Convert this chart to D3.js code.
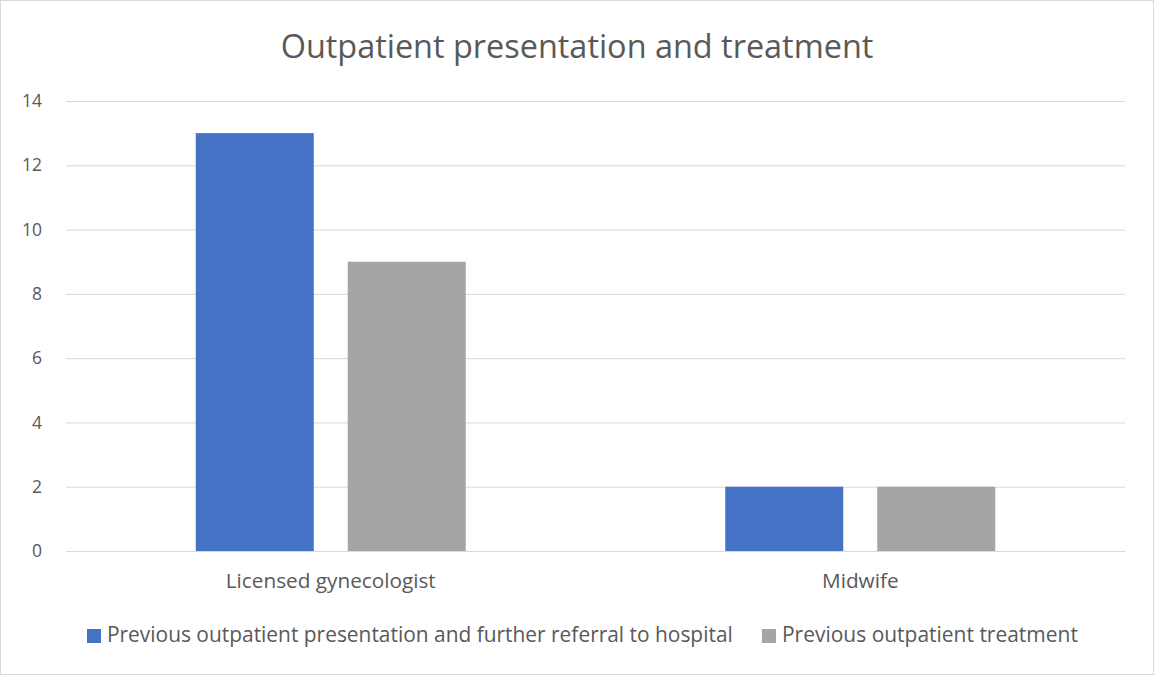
<!DOCTYPE html>
<html><head><meta charset="utf-8">
<script src="https://cdn.jsdelivr.net/npm/d3@7"></script>
<style>body{margin:0;background:#fff;} text{font-family:"Open Sans",Lato,sans-serif;fill:#595959;}</style>
</head><body>
<svg id="c" width="1154" height="675"></svg>
<script>
const categories = ["Licensed gynecologist", "Midwife"];
const seriesNames = ["Previous outpatient presentation and further referral to hospital", "Previous outpatient treatment"];
const referralValues = [13, 2];
const treatmentValues = [9, 2];
const yTicks = [0, 2, 4, 6, 8, 10, 12, 14];
const colors = ["#4472C4", "#A5A5A5"];
const title = "Outpatient presentation and treatment";

function fit(sel, target, base) {
  sel.each(function(){
    const t = d3.select(this);
    t.style("font-size", base + "px");
    const w = this.getComputedTextLength();
    t.style("font-size", (base * target / w).toFixed(2) + "px");
  });
}

const svg = d3.select("#c");
svg.append("rect").attr("x",0.5).attr("y",0.5).attr("width",1153).attr("height",674)
  .attr("fill","#fff").attr("stroke","#D9D9D9");

const m = {l:66, r:1125, t:101, b:551};
const x = d3.scaleBand().domain(categories).range([m.l, m.r]);
const y = d3.scaleLinear().domain([0,14]).range([m.b, m.t]);
const xs = d3.scaleBand().domain([0,1]).range([0,270]).paddingInner(34/152);

const ya = d3.axisLeft(y).tickValues(yTicks).tickSize(-(m.r-m.l)).tickPadding(24);
const g = svg.append("g").attr("transform",`translate(${m.l},0)`).call(ya);
g.select(".domain").remove();
g.selectAll(".tick line").attr("stroke","#D9D9D9").attr("stroke-width",1);
g.selectAll(".tick text").style("font-size","17.5px").attr("fill","#595959");

const data = categories.map((c,i)=>({c, v:[referralValues[i], treatmentValues[i]]}));
const grp = svg.append("g").selectAll("g").data(data).join("g")
  .attr("transform", d=>`translate(${x(d.c)+x.bandwidth()/2-135},0)`);
grp.selectAll("rect").data(d=>d.v).join("rect")
  .attr("x",(d,i)=>xs(i)).attr("width",xs.bandwidth())
  .attr("y",d=>y(d)).attr("height",d=>y(0)-y(d))
  .attr("fill",(d,i)=>colors[i]);

const xa = d3.axisBottom(x).tickSize(0).tickPadding(22);
const gx = svg.append("g").attr("transform",`translate(0,${m.b})`).call(xa);
gx.select(".domain").attr("stroke","#D9D9D9");
gx.selectAll(".tick text").attr("fill","#595959").call(fit, 210, 17)
  .each(function(){ d3.select(this).style("font-size", d3.select(this.parentNode.parentNode).select(".tick text").style("font-size")); });

svg.append("text").attr("x",577).attr("y",58).attr("text-anchor","middle")
  .text(title).call(fit, 593, 28);

const lx = [87, 762];
const lw = [626, 296];
const lg = svg.append("g").selectAll("g").data(seriesNames).join("g")
  .attr("transform",(d,i)=>`translate(${lx[i]},629)`);
lg.append("rect").attr("width",14).attr("height",14).attr("fill",(d,i)=>colors[i]);
lg.append("text").attr("x",20).attr("y",13).text(d=>d).each(function(d,i){ d3.select(this).call(fit, lw[i], 18); });
</script>
</body></html>
